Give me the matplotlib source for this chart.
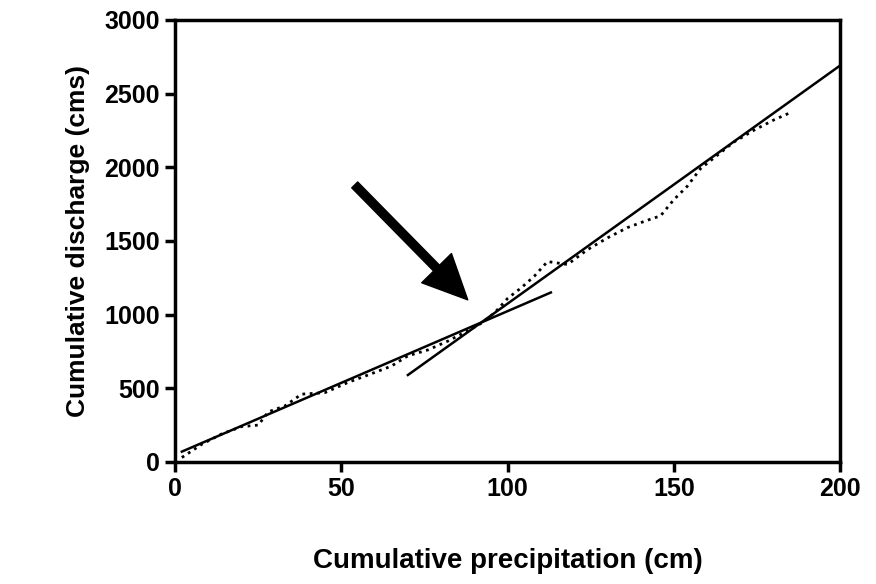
import numpy as np
import matplotlib.pyplot as plt

plt.rcParams['font.family'] = ['Liberation Sans', 'DejaVu Sans']

# observed cumulative values (dotted curve)
precip = [2, 8, 14, 20, 25, 28, 33, 38, 45, 52, 58, 65, 70, 76, 82, 88, 92, 96, 100, 104,
          108, 112, 118, 124, 130, 136, 142, 146, 150, 154, 158, 163, 168, 174, 180, 185]
discharge = [30, 120, 190, 240, 250, 340, 380, 460, 470, 540, 590, 650, 720, 760, 820, 890,
             940, 1010, 1110, 1180, 1260, 1360, 1340, 1440, 1520, 1590, 1640, 1670, 1780,
             1870, 1990, 2080, 2170, 2250, 2320, 2370]

# fitted break-in-slope lines
fit1_x = [2, 113]
fit1_y = [70, 1150]
fit2_x = [70, 200]
fit2_y = [590, 2690]

fig = plt.figure(figsize=(8.76, 5.84), dpi=100)
ax = fig.add_axes([0.2, 0.209, 0.759, 0.757])

ax.plot(precip, discharge, color='black', linestyle=':', linewidth=2)
ax.plot(fit1_x, fit1_y, color='black', linewidth=1.8)
ax.plot(fit2_x, fit2_y, color='black', linewidth=1.8)
ax.annotate('', xy=(88, 1100), xytext=(54, 1880),
            arrowprops=dict(facecolor='black', edgecolor='black', width=6,
                            headwidth=30, headlength=32))

ax.set_xlim(0, 200)
ax.set_ylim(0, 3000)
ax.set_xticks([0, 50, 100, 150, 200])
ax.set_yticks([0, 500, 1000, 1500, 2000, 2500, 3000])
for s in ax.spines.values():
    s.set_linewidth(2.5)
ax.tick_params(direction='out', width=2.5, length=7, labelsize=18, pad=4)
for lab in ax.get_xticklabels() + ax.get_yticklabels():
    lab.set_fontweight('bold')
ax.set_xlabel('Cumulative precipitation (cm)', fontsize=20, fontweight='bold', labelpad=34)
ax.set_ylabel('Cumulative discharge (cms)', fontsize=19, fontweight='bold', labelpad=10)

fig.savefig('out.png')
